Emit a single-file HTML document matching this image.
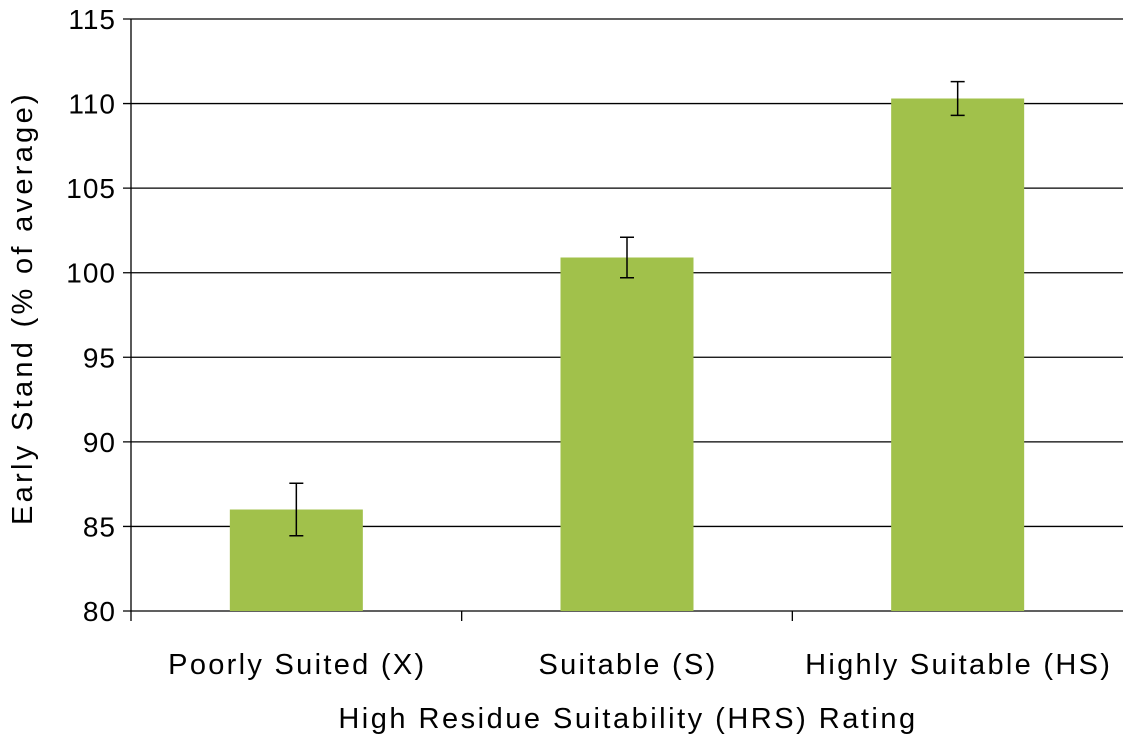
<!DOCTYPE html>
<html><head><meta charset="utf-8"><style>
body{margin:0;background:#fff;width:1123px;height:738px;overflow:hidden}
svg{font-family:"Liberation Sans",sans-serif}
</style></head><body>
<svg id="chart" width="1123" height="738"></svg>
<script>
const categories=["Poorly Suited (X)","Suitable (S)","Highly Suitable (HS)"];
const values=[86.0,100.9,110.3];
const errors=[1.55,1.2,1.0];
const ticks=[80,85,90,95,100,105,110,115];
const svg=document.getElementById('chart');
const NS='http://www.w3.org/2000/svg';
const x0=131,x1=1123,yTop=19,yBot=611,vmin=80,vmax=115;
const y=v=>yBot-(v-vmin)/(vmax-vmin)*(yBot-yTop);
const cw=(x1-x0)/categories.length;
const xc=i=>x0+cw*(i+0.5);
function mk(t,a){const e=document.createElementNS(NS,t);for(const k in a)e.setAttribute(k,a[k]);svg.appendChild(e);return e;}
ticks.forEach(t=>{
 const g=mk('line',{x1:x0-8,x2:x1,y1:y(t),y2:y(t),stroke:'#000','stroke-width':1.3});
 
 
 const l=mk('text',{x:x0-15,y:y(t)+10,'text-anchor':'end','font-size':28,'letter-spacing':1,fill:'#000'});
 l.textContent=t;
 
 
});
const ax=mk('line',{x1:x0,x2:x0,y1:yTop,y2:yBot+10,stroke:'#000','stroke-width':1.3});


for(let i=1;i<categories.length;i++){
 const t=mk('line',{x1:x0+cw*i,x2:x0+cw*i,y1:yBot,y2:yBot+10,stroke:'#000','stroke-width':1.3});
 
 
}
categories.forEach((c,i)=>{
 const bw=133;
 const b=mk('rect',{x:xc(i)-bw/2,y:y(values[i]),width:bw,height:yBot-y(values[i]),fill:'#a1c14b'});
 
 
 const hi=y(values[i]+errors[i]),lo=y(values[i]-errors[i]);
 const e=mk('path',{d:`M${xc(i)} ${hi}V${lo}M${xc(i)-7} ${hi}H${xc(i)+7}M${xc(i)-7} ${lo}H${xc(i)+7}`,stroke:'#000','stroke-width':1.5,fill:'none'});
 
 
 const l=mk('text',{x:xc(i)+1,y:674,'text-anchor':'middle','font-size':29,'letter-spacing':2.3,fill:'#000'});
 l.textContent=c;
 
 
});
const xt=mk('text',{x:628,y:728,'text-anchor':'middle','font-size':29,'letter-spacing':2.5,fill:'#000'});
xt.textContent='High Residue Suitability (HRS) Rating';


const yt=mk('text',{x:0,y:0,'text-anchor':'middle','font-size':29,'letter-spacing':3.3,fill:'#000',transform:'translate(32,308) rotate(-90)'});
yt.textContent='Early Stand (% of average)';


</script>
</body></html>
